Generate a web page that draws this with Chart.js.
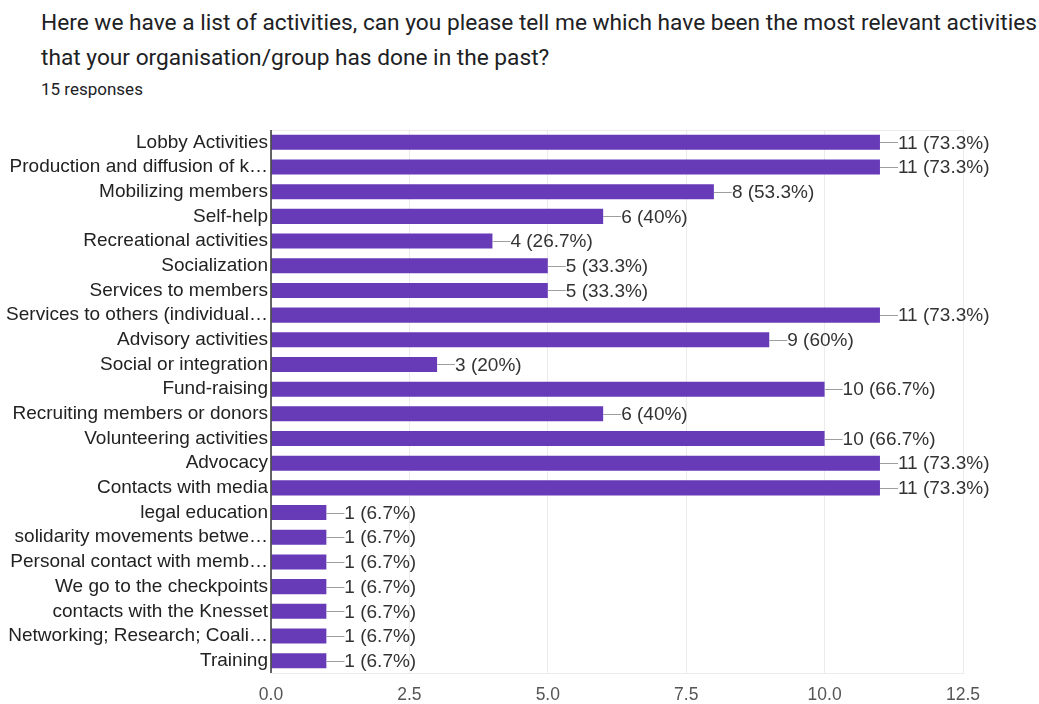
<!DOCTYPE html>
<html>
<head>
<meta charset="utf-8">
<script src="https://cdn.jsdelivr.net/npm/chart.js@4"></script>
<style>
  html, body { margin: 0; padding: 0; background: #fff; width: 1039px; height: 704px; overflow: hidden; }
  #title { position: absolute; left: 41px; top: 6px; font-family: Roboto, sans-serif; font-size: 22.7px; line-height: 34.5px; color: #202124; white-space: nowrap; }
  #sub { position: absolute; left: 41px; top: 79px; font-family: Roboto, sans-serif; font-size: 17px; color: #202124; }
  #wrap { position: absolute; left: 0; top: 0; width: 1039px; height: 704px; }
</style>
</head>
<body>
<div id="title">Here we have a list of activities, can you please tell me which have been the most relevant activities<br>that your organisation/group has done in the past?</div>
<div id="sub">15 responses</div>
<div id="wrap"><canvas id="c" width="1039" height="704"></canvas></div>
<script>
const categories = [
  "Lobby Activities",
  "Production and diffusion of k\u2026",
  "Mobilizing members",
  "Self-help",
  "Recreational activities",
  "Socialization",
  "Services to members",
  "Services to others (individual\u2026",
  "Advisory activities",
  "Social or integration",
  "Fund-raising",
  "Recruiting members or donors",
  "Volunteering activities",
  "Advocacy",
  "Contacts with media",
  "legal education",
  "solidarity movements betwe\u2026",
  "Personal contact with memb\u2026",
  "We go to the checkpoints",
  "contacts with the Knesset",
  "Networking; Research; Coali\u2026",
  "Training"
];
const counts = [11, 11, 8, 6, 4, 5, 5, 11, 9, 3, 10, 6, 10, 11, 11, 1, 1, 1, 1, 1, 1, 1];
const totalResponses = 15;
const xTicks = [0, 2.5, 5, 7.5, 10, 12.5];

const FONT = "'Liberation Sans', Arial, sans-serif";

const valueLabels = {
  id: 'valueLabels',
  afterDatasetsDraw(chart) {
    const ctx = chart.ctx;
    const meta = chart.getDatasetMeta(0);
    ctx.save();
    ctx.font = '19px ' + FONT;
    ctx.textBaseline = 'middle';
    ctx.textAlign = 'left';
    meta.data.forEach((bar, i) => {
      const v = counts[i];
      const pct = Math.round(v / totalResponses * 1000) / 10;
      const txt = v + ' (' + pct + '%)';
      ctx.strokeStyle = '#9e9e9e';
      ctx.lineWidth = 1;
      ctx.beginPath();
      ctx.moveTo(bar.x, Math.round(bar.y) + 0.5);
      ctx.lineTo(bar.x + 18, Math.round(bar.y) + 0.5);
      ctx.stroke();
      ctx.fillStyle = '#333';
      ctx.fillText(txt, bar.x + 18, bar.y + 1);
    });
    ctx.restore();
  }
};

const frame = {
  id: 'frame',
  beforeDatasetsDraw(chart) {
    const a = chart.chartArea;
    const ctx = chart.ctx;
    ctx.save();
    ctx.strokeStyle = '#ebebeb';
    ctx.lineWidth = 1;
    ctx.beginPath();
    ctx.moveTo(a.left, Math.round(a.top) + 0.5);
    ctx.lineTo(a.right, Math.round(a.top) + 0.5);
    ctx.stroke();
    ctx.restore();
  },
  afterDatasetsDraw(chart) {
    const a = chart.chartArea;
    const ctx = chart.ctx;
    const x0 = chart.scales.x.getPixelForValue(0);
    ctx.save();
    ctx.strokeStyle = '#333';
    ctx.lineWidth = 1.5;
    ctx.beginPath();
    ctx.moveTo(x0, a.top);
    ctx.lineTo(x0, a.bottom);
    ctx.stroke();
    ctx.restore();
  }
};

new Chart(document.getElementById('c'), {
  type: 'bar',
  data: {
    labels: categories,
    datasets: [{
      data: counts,
      backgroundColor: '#673ab7',
      borderWidth: 0,
      barPercentage: 0.61,
      categoryPercentage: 1.0
    }]
  },
  options: {
    indexAxis: 'y',
    responsive: false,
    animation: false,
    devicePixelRatio: 1,
    layout: { padding: { top: 130, right: 76, left: 0, bottom: 0 } },
    plugins: { legend: { display: false }, tooltip: { enabled: false }, title: { display: false } },
    scales: {
      x: {
        min: 0, max: 12.5,
        afterBuildTicks(scale) { scale.ticks = xTicks.map(v => ({ value: v })); },
        afterFit(scale) { scale.height = 31; },
        grid: { color: '#ebebeb', drawTicks: false, lineWidth: 1 },
        border: { display: true, color: '#ebebeb' },
        ticks: {
          padding: 12,
          color: '#555',
          font: { family: FONT, size: 17.5 },
          callback: (v) => Number(v).toFixed(1)
        }
      },
      y: {
        afterFit(scale) { scale.width = 271; },
        grid: { display: false, drawTicks: false },
        border: { display: false },
        ticks: {
          padding: 3,
          color: '#222',
          font: { family: FONT, size: 19 },
          autoSkip: false
        }
      }
    }
  },
  plugins: [frame, valueLabels]
});
</script>
</body>
</html>
